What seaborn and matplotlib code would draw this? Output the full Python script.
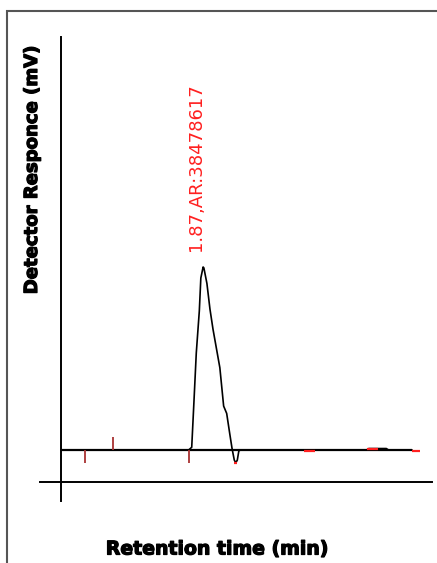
import matplotlib
matplotlib.use("Agg")
import matplotlib.pyplot as plt
import matplotlib.patheffects as pe
import seaborn as sns
import pandas as pd
from matplotlib.patches import Rectangle

# Chromatogram trace (time in min, response in mV)
time_min = [0.0, 1.68, 1.72, 1.75, 1.78, 1.82, 1.84, 1.87, 1.88, 1.92, 1.96, 2.0,
            2.09, 2.14, 2.18, 2.22, 2.25, 2.28, 2.30, 2.32, 2.34, 2.36, 3.2,
            4.02, 4.05, 4.28, 4.31, 4.62]
response_mv = [0.0, 0.0, 1.5, 27.0, 53.0, 76.0, 94.0, 100.0, 99.5, 91.0, 77.0, 66.0,
               45.0, 24.0, 20.0, 9.0, 1.0, -5.5, -7.0, -5.5, -0.5, 0.0, 0.0,
               0.0, 0.8, 0.8, 0.0, 0.0]

# Peak event markers
tick_down_t = [0.32, 1.68]
tick_up_t = [0.68]
tick_size = 7.0
dash_t_start = [2.27, 3.20, 4.03, 4.62]
dash_t_end = [2.31, 3.34, 4.17, 4.72]
dash_y = [-7.0, -0.6, 0.6, -0.4]

peak_label = "1.87,AR:38478617"
peak_time = 1.78
peak_label_y = 109.0

df = pd.DataFrame({"t": time_min, "mv": response_mv})

sns.set_style("white")
fig = plt.figure(figsize=(4.37, 5.63), dpi=100)
ax = fig.add_axes([40/437, 1-501/563, 392/437, 464/563])

sns.lineplot(data=df, x="t", y="mv", ax=ax, color="black", lw=1.2, sort=False)
ax.hlines(0, 0, 4.62, color="black", lw=1.6, zorder=1)

ax.vlines(tick_down_t, -tick_size, 0, color="#a83232", lw=1.3)
ax.vlines(tick_up_t, 0, tick_size, color="#a83232", lw=1.3)
ax.hlines(dash_y, dash_t_start, dash_t_end, color="#ff2020", lw=1.6)

ax.text(peak_time, peak_label_y, peak_label, rotation=90, color="#ff2020",
        ha="center", va="bottom", fontsize=13, family="DejaVu Sans")

ax.set_xlim((40-61)/76, (432-61)/76)
ax.set_ylim(-51/1.83, 413/1.83)
for s in ["top", "right"]:
    ax.spines[s].set_visible(False)
ax.spines["left"].set_position(("data", 0))
ax.spines["bottom"].set_position(("data", -32/1.83))
for s in ["left", "bottom"]:
    ax.spines[s].set_linewidth(1.4)
    ax.spines[s].set_color("black")
ax.set_xticks([])
ax.set_yticks([])
ax.patch.set_alpha(0)

heavy = [pe.withStroke(linewidth=0.9, foreground="black")]
ax.set_xlabel("Retention time (min)", fontsize=13.6, fontweight="bold",
              color="black", path_effects=heavy)
ax.xaxis.set_label_coords((217-40)/392, -(549-501)/464)
ax.xaxis.label.set_va("center")
ax.set_ylabel("Detector Responce (mV)", fontsize=13.0, fontweight="bold",
              color="black", path_effects=heavy)
ax.yaxis.set_label_coords((32-40)/392, (501-170.5)/464)
ax.yaxis.label.set_va("center")

fig.patches.append(Rectangle((7/437, -0.05), 1.2, 1 - 11/563 + 0.05,
                             transform=fig.transFigure, fill=False,
                             edgecolor="#555555", lw=1.5))

fig.savefig("out.png", dpi=100)
